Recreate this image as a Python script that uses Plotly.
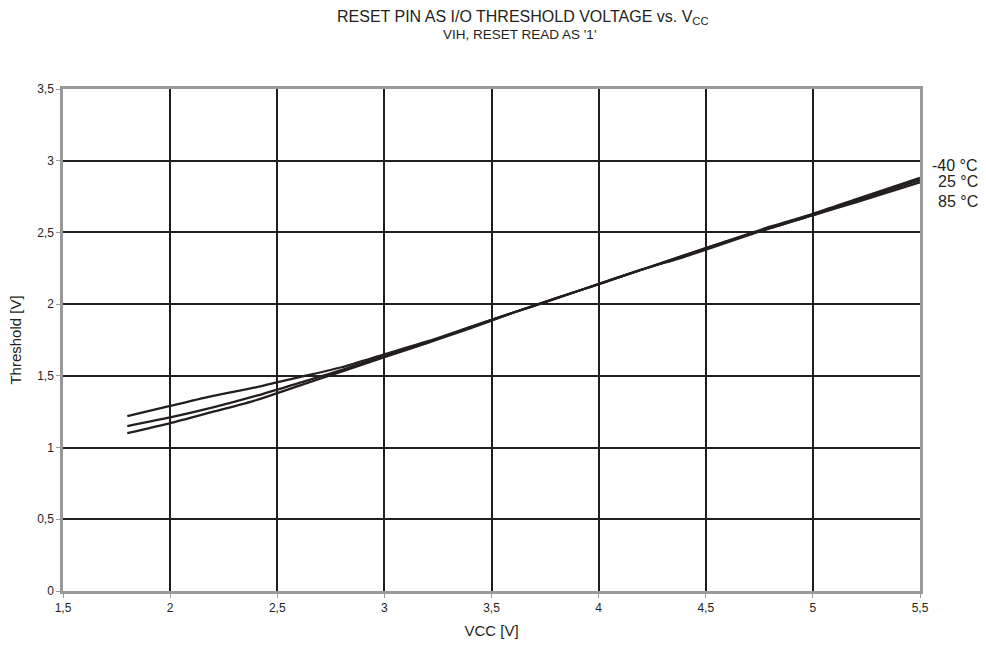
import plotly.graph_objects as go

vcc = [1.8, 2.0, 2.2, 2.4, 2.6, 2.8, 3.0, 3.2, 3.4, 3.6, 3.8, 4.0, 4.2, 4.4, 4.6, 4.8, 5.0, 5.2, 5.5]
t_m40 = [1.10, 1.17, 1.25, 1.33, 1.43, 1.53, 1.63, 1.73, 1.83, 1.94, 2.04, 2.14, 2.24, 2.34, 2.44, 2.54, 2.63, 2.73, 2.88]
t_25 = [1.15, 1.21, 1.28, 1.36, 1.45, 1.54, 1.64, 1.73, 1.84, 1.94, 2.04, 2.14, 2.24, 2.34, 2.44, 2.53, 2.62, 2.72, 2.865]
t_85 = [1.22, 1.29, 1.36, 1.42, 1.49, 1.56, 1.65, 1.74, 1.84, 1.94, 2.04, 2.14, 2.24, 2.33, 2.43, 2.53, 2.62, 2.71, 2.85]
series_names = ["-40 °C", "25 °C", "85 °C"]
label_y = [2.97, 2.855, 2.715]

x_ticks = [1.5, 2, 2.5, 3, 3.5, 4, 4.5, 5, 5.5]
x_ticktext = ["1,5", "2", "2,5", "3", "3,5", "4", "4,5", "5", "5,5"]
y_ticks = [0, 0.5, 1, 1.5, 2, 2.5, 3, 3.5]
y_ticktext = ["0", "0,5", "1", "1,5", "2", "2,5", "3", "3,5"]

FONT = "Liberation Sans, Arial, sans-serif"
LINE = "#231f20"

fig = go.Figure()
for name, ys in zip(series_names, [t_m40, t_25, t_85]):
    fig.add_trace(go.Scatter(x=vcc, y=ys, mode="lines", name=name,
                             line=dict(color=LINE, width=2.3, shape="spline", smoothing=0.6),
                             showlegend=False))

for name, ly in zip(series_names, label_y):
    fig.add_annotation(x=1.07, xref="paper", y=ly, yref="y", text=name,
                       showarrow=False, xanchor="right", yanchor="middle",
                       font=dict(family=FONT, size=16, color="#231f20"))

fig.update_layout(
    width=986, height=650,
    margin=dict(l=63, r=66, t=89, b=57),
    paper_bgcolor="white", plot_bgcolor="white",
    font=dict(family=FONT, size=12, color="#231f20"),
    xaxis=dict(range=[1.5, 5.5], tickvals=x_ticks, ticktext=x_ticktext,
               showgrid=True, gridcolor=LINE, gridwidth=2.2,
               showline=True, linecolor="#999999", linewidth=2.5, mirror=True,
               ticks="outside", ticklen=4, tickcolor="#999999",
               zeroline=False,
               title=dict(text="VCC [V]", font=dict(size=15), standoff=12)),
    yaxis=dict(range=[0, 3.5], tickvals=y_ticks, ticktext=y_ticktext,
               showgrid=True, gridcolor=LINE, gridwidth=2.2,
               showline=True, linecolor="#999999", linewidth=2.5, mirror=True,
               ticks="outside", ticklen=4, tickcolor="#999999",
               zeroline=False,
               title=dict(text="Threshold [V]", font=dict(size=15), standoff=12)),
)

fig.add_annotation(x=(523 - 63) / 857, xref="paper", y=(593 - 17) / 504, yref="paper",
                   text="RESET PIN AS I/O THRESHOLD VOLTAGE vs. V<sub>CC</sub>",
                   showarrow=False, xanchor="center", yanchor="middle",
                   font=dict(family=FONT, size=16, color="#231f20"))
fig.add_annotation(x=(519 - 63) / 857, xref="paper", y=(593 - 34) / 504, yref="paper",
                   text="VIH, RESET READ AS '1'",
                   showarrow=False, xanchor="center", yanchor="middle",
                   font=dict(family=FONT, size=13.5, color="#231f20"))

fig.write_html("out.html", config={"displayModeBar": False},
               post_script="document.body.style.margin='0';")
